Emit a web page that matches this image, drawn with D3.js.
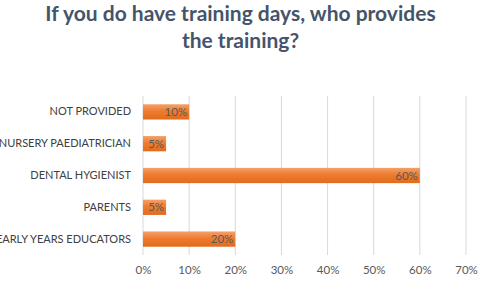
<!DOCTYPE html>
<html lang="en">
<head>
    <meta charset="UTF-8">
    <script src="https://d3js.org/d3.v7.min.js"></script>
    <style>
        body{ margin:0; background:#fff; }
        text{ font-family: Lato, "Open Sans", sans-serif; }
    </style>
    <title>Training</title>
</head>
<body>
    <div class="canvas"></div>
</body>
<script>
    const categories = ['NOT PROVIDED','NURSERY PAEDIATRICIAN','DENTAL HYGIENIST','PARENTS','EARLY YEARS EDUCATORS'];
    const values = [0.10, 0.05, 0.60, 0.05, 0.20];
    const ticks = [0, 0.1, 0.2, 0.3, 0.4, 0.5, 0.6, 0.7];
    const titleLines = ['If you do have training days, who provides','the training?'];

    const width = 481;
    const height = 282;
    let [mt,mb,mr,ml] = [96,27,15,143];
    const graphWidth = 466 - ml;
    const graphHeight = height - mt - mb;

    const svg = d3.select('.canvas')
                    .append('svg')
                    .attr('width',width)
                    .attr('height',height);

    const defs = svg.append('defs');
    const grad = defs.append('linearGradient')
                    .attr('id','barGrad')
                    .attr('x1',0).attr('y1',0).attr('x2',0).attr('y2',1);
    grad.append('stop').attr('offset','0%').attr('stop-color','#f4a06a');
    grad.append('stop').attr('offset','45%').attr('stop-color','#ee7c30');
    grad.append('stop').attr('offset','100%').attr('stop-color','#e06c1c');

    svg.append('g').selectAll('text')
        .data(titleLines)
        .enter()
        .append('text')
        .attr('x',width/2)
        .attr('y',(d,i)=>21 + i*27)
        .attr('text-anchor','middle')
        .attr('font-size','21px')
        .attr('font-weight','bold')
        .attr('fill','#44546a')
        .text(d=>d);

    const graph = svg.append('g')
                    .attr('transform',`translate(${ml},${mt})`);

    const x = d3.scaleLinear()
                .domain([0,0.7])
                .range([0,graphWidth]);
    const y = d3.scaleBand()
                .domain(categories)
                .range([0,graphHeight])
                .paddingInner(0.52)
                .paddingOuter(0.26);

    // gridlines
    graph.append('g').selectAll('line')
        .data(ticks)
        .enter()
        .append('line')
        .attr('x1',d=>x(d)).attr('x2',d=>x(d))
        .attr('y1',0).attr('y2',graphHeight)
        .attr('stroke','#d9d9d9')
        .attr('stroke-width',1);

    graph.append('g').selectAll('rect')
        .data(values)
        .enter()
        .append('rect')
        .attr('x',x(0))
        .attr('y',(d,i)=>y(categories[i]))
        .attr('width',d=>x(d)-x(0))
        .attr('height',y.bandwidth())
        .attr('fill','url(#barGrad)');

    graph.append('g').selectAll('text')
        .data(values)
        .enter()
        .append('text')
        .attr('x',d=>x(d)-2)
        .attr('y',(d,i)=>y(categories[i]) + y.bandwidth()/2 + 4)
        .attr('text-anchor','end')
        .attr('font-size','11.5px')
        .attr('fill','#595959')
        .text(d=>d3.format('.0%')(d));

    const yAxisG = graph.append('g').attr('transform','translate(-12,0)');
    yAxisG.call(d3.axisLeft(y).tickSize(0).tickPadding(0));
    yAxisG.select('.domain').remove();
    yAxisG.selectAll('text')
        .attr('font-size','11px')
        .attr('font-family','Lato, "Open Sans", sans-serif')
        .attr('fill','#404040');

    const xAxisG = graph.append('g').attr('transform',`translate(0,${graphHeight})`);
    xAxisG.call(d3.axisBottom(x).tickValues(ticks).tickSize(0).tickPadding(11).tickFormat(d3.format('.0%')));
    xAxisG.select('.domain').remove();
    xAxisG.selectAll('text')
        .attr('font-size','11.5px')
        .attr('font-family','Lato, "Open Sans", sans-serif')
        .attr('fill','#595959');
</script>
</html>
